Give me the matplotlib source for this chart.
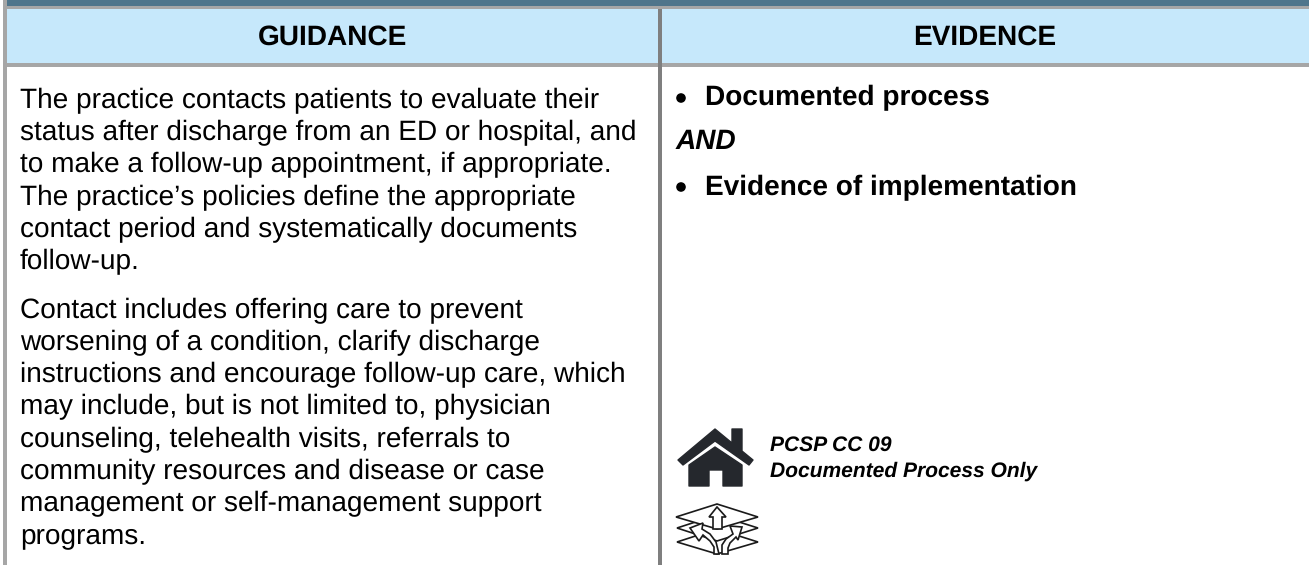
import matplotlib
matplotlib.use("Agg")
import matplotlib.pyplot as plt
from matplotlib.patches import Rectangle, Polygon, Circle

W, H = 1309, 565

headers = ["GUIDANCE", "EVIDENCE"]
guidance_1 = ["The practice contacts patients to evaluate their",
              "status after discharge from an ED or hospital, and",
              "to make a follow-up appointment, if appropriate.",
              "The practice\u2019s policies define the appropriate",
              "contact period and systematically documents",
              "follow-up."]
guidance_2 = ["Contact includes offering care to prevent",
              "worsening of a condition, clarify discharge",
              "instructions and encourage follow-up care, which",
              "may include, but is not limited to, physician",
              "counseling, telehealth visits, referrals to",
              "community resources and disease or case",
              "management or self-management support",
              "programs."]
evidence = ["Documented process", "Evidence of implementation"]
joiner = "AND"
pcsp = ["PCSP CC 09", "Documented Process Only"]

plt.rcParams['font.family'] = ['Liberation Sans', 'DejaVu Sans']
plt.rcParams['text.hinting'] = 'none'
plt.rcParams['text.hinting_factor'] = 1

fig = plt.figure(figsize=(W / 100, H / 100), dpi=100)
ax = fig.add_axes([0, 0, 1, 1])
ax.set_xlim(0, W)
ax.set_ylim(H, 0)
ax.axis('off')

def box(x0, y0, x1, y1, color):
    ax.add_patch(Rectangle((x0, y0), x1 - x0, y1 - y0, fc=color, ec='none', lw=0))

def write(x, y, s, size=20.1, **kw):
    ax.text(x, y, s, fontsize=size, ha=kw.pop('ha', 'left'), va='baseline', color='black', **kw)

# table frame
box(7, 0, W, 6, '#4f758b')
box(7, 6, W, 9, '#a6a6a6')
box(7, 9, W, 63, '#c6e8fb')
box(3, 63, W, 67, '#a6a6a6')
box(3, 0, 7, H, '#a6a6a6')
box(658, 9, 662, H, '#7f7f7f')

write(333, 45, headers[0], fontweight='bold', ha='center')
write(985, 45, headers[1], fontweight='bold', ha='center')

# guidance text, line by line
for i, line in enumerate(guidance_1):
    write(20, 108 + i * 32.3, line)
for i, line in enumerate(guidance_2):
    write(20, 318 + i * 32.2, line)

# evidence bullets
ax.add_patch(Circle((681, 98), 4.8, fc='black', ec='none'))
write(705, 105, evidence[0], fontweight='bold')
write(676, 149, joiner, fontweight='bold', style='italic')
ax.add_patch(Circle((681, 187), 4.8, fc='black', ec='none'))
write(705, 195, evidence[1], fontweight='bold')

# PCSP note
write(770, 451, pcsp[0], size=15.4, fontweight='bold', style='italic')
write(770, 477, pcsp[1], size=15.4, fontweight='bold', style='italic')

# house icon
dark = '#25282d'
ax.add_patch(Polygon([(678, 460), (715, 429), (732, 443), (732, 429), (742, 429), (742, 451),
                      (753, 460), (749, 465), (715, 441), (683, 465)],
                     fc=dark, ec=dark, lw=1, joinstyle='round'))
ax.add_patch(Polygon([(689, 465), (715, 447), (742, 465), (742, 486), (723, 486), (723, 470),
                      (709, 470), (709, 486), (689, 486)],
                     fc=dark, ec=dark, lw=1, joinstyle='round'))

# layers icon
def outline(pts):
    ax.add_patch(Polygon(pts, fc='white', ec='#1a1a1a', lw=1.2, joinstyle='miter'))

outline([(677, 542), (717, 529), (758, 542), (717, 554)])
outline([(677, 528), (717, 515), (758, 528), (717, 541)])
outline([(676, 517), (717, 504), (758, 517), (717, 529)])
outline([(713, 529), (713, 517), (709, 517), (717, 507), (726, 517), (722, 517), (722, 529)])
outline([(714, 554), (714, 547), (710, 541), (703, 535), (699, 541), (690, 528), (703, 523),
         (702, 529), (710, 534), (716, 542), (719, 554)])
outline([(722, 554), (722, 545), (726, 539), (733, 534), (730, 526), (742, 527), (738, 540),
         (736, 537), (730, 543), (728, 548), (728, 554)])

fig.savefig('out.png', dpi=100)
